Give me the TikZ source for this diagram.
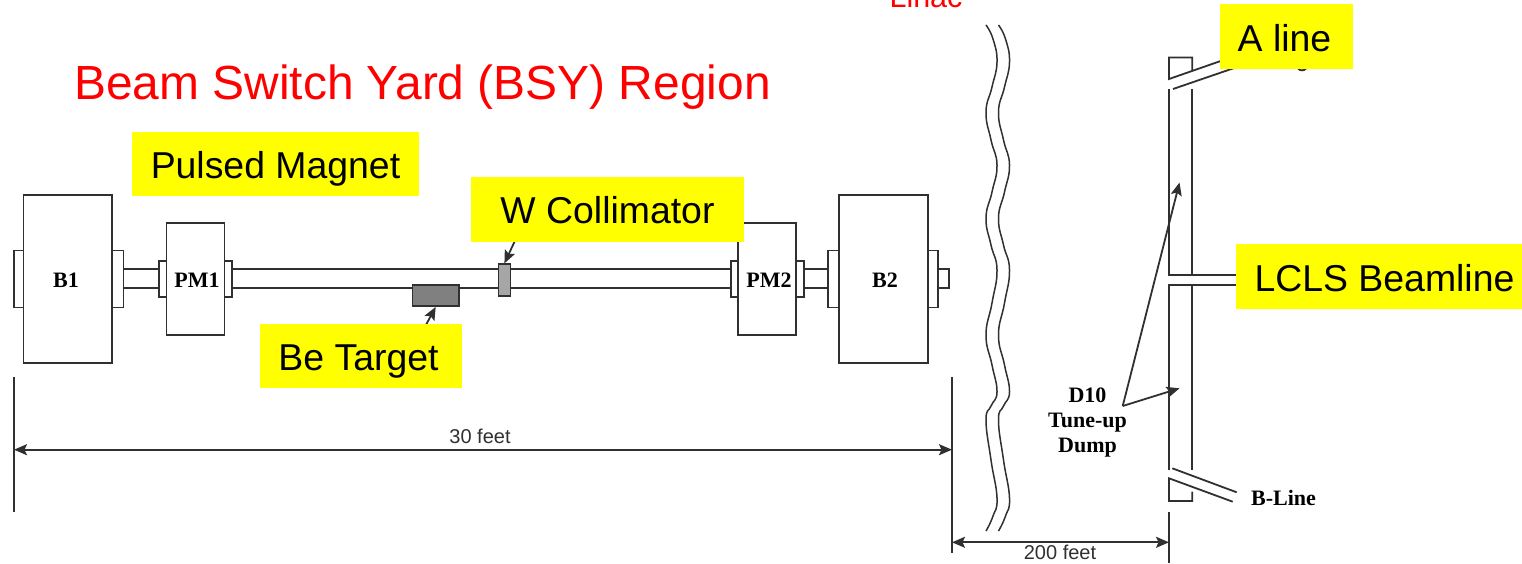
\documentclass[tikz,border=0pt]{standalone}
\usepackage{fontspec}
\usetikzlibrary{arrows.meta}
\newfontfamily\arialf{Liberation Sans}
\newfontfamily\timesf{Liberation Serif}
\definecolor{ink}{HTML}{303030}
\definecolor{hiyellow}{HTML}{FFFF00}
\tikzset{
  ln/.style={draw=ink,line width=1.8pt},
  part/.style={ln,fill=white,rectangle,inner sep=0pt},
  tag/.style={fill=hiyellow,rectangle,inner sep=0pt,text height=32pt,text depth=3pt,
    font=\arialf\fontsize{37.4}{37.4}\selectfont,text=black},
  redtxt/.style={inner sep=0pt,anchor=base,text=red,font=\arialf},
  boldl/.style={inner sep=0pt,anchor=base,text=black,align=center,font=\timesf\bfseries\fontsize{22}{25}\selectfont},
  thin label/.style={inner sep=0pt,anchor=base,text=ink,font=\arialf\fontsize{20}{20}\selectfont},
  arr/.style={ln,-{Stealth[length=13pt,width=11pt,inset=2.5pt]}},
  dim/.style={ln,{Stealth[length=13pt,width=11pt,inset=2.5pt]}-{Stealth[length=13pt,width=11pt,inset=2.5pt]}},
  wave/.style={draw=ink,line width=1.5pt}
}
\begin{document}
\begin{tikzpicture}[x=1pt,y=-1pt]
\useasboundingbox (0,0) rectangle (1522,563);
\clip (0,0) rectangle (1522,563);
% pipes
\draw[ln] (123,269.3) -- (949,269.3) -- (949,288.3) -- (123,288.3);
% flanges
\node[part,minimum width=9.5pt,minimum height=57pt] (B1L) at (18.7,279) {};
\node[part,minimum width=11.5pt,minimum height=57pt] (B1R) at (117.7,279) {};
\node[part,minimum width=7.5pt,minimum height=36.5pt] (P1L) at (162.7,279) {};
\node[part,minimum width=7.5pt,minimum height=36.5pt] (P1R) at (228.2,279) {};
\node[part,minimum width=7.6pt,minimum height=36.5pt] (P2L) at (734.5,279) {};
\node[part,minimum width=7.6pt,minimum height=36.5pt] (P2R) at (799.8,279) {};
\node[part,minimum width=11.6pt,minimum height=57pt] (B2L) at (833.5,279) {};
\node[part,minimum width=10pt,minimum height=57pt] (B2R) at (932.7,279) {};
% main boxes
\node[part,minimum width=88.5pt,minimum height=168pt] (B1) at (67.8,279) {};
\node[part,minimum width=58pt,minimum height=112.3pt] (PM1) at (195.5,279.2) {};
\node[part,minimum width=57.7pt,minimum height=112.3pt] (PM2) at (767.2,279.2) {};
\node[part,minimum width=88.4pt,minimum height=168pt] (B2) at (883.5,279) {};
\node[boldl] (B1t) at (66,287) {B1};
\node[boldl] (PM1t) at (197,287) {PM1};
\node[boldl] (PM2t) at (769,287) {PM2};
\node[boldl] (B2t) at (885,287) {B2};
% targets
\node[part,fill=black!50,minimum width=46.5pt,minimum height=21pt] (target) at (435.7,295.5) {};
\node[part,fill=black!35,minimum width=12pt,minimum height=31.4pt] (coll) at (504.4,280) {};
\coordinate (targetfrom) at (420,336);
\coordinate (collfrom) at (520,230);
\draw[arr] (targetfrom) -- (target.south);
\draw[arr] (collfrom) -- (coll.north);
% dimension lines
\coordinate (a1) at (14,377); \coordinate (a2) at (14,512);
\coordinate (b1) at (952,377); \coordinate (b2) at (952,552.5);
\coordinate (c1) at (1169,511.7); \coordinate (c2) at (1169,563);
\draw[ln] (a1) -- (a2);
\draw[ln] (b1) -- (b2);
\draw[ln] (c1) -- (c2);
\coordinate (d1) at (14,449.7); \coordinate (d2) at (952,449.7);
\coordinate (e1) at (952,542.3); \coordinate (e2) at (1169,542.3);
\draw[dim] (d1) -- (d2);
\draw[dim] (e1) -- (e2);
\node[thin label] (t30) at (480,443) {30 feet};
\node[thin label] (t200) at (1060,559) {200 feet};
% break marks
\draw[wave] plot[smooth,tension=0.8] coordinates {(986,25) (993,39) (997,62) (992,87) (986,112) (991,140) (997,165) (992,192) (986,218) (991,245) (997,270) (992,303) (986,335) (992,365) (997,392) (991,406) (986,420) (991,460) (997,498) (993,516) (986,531)};
\draw[wave] plot[smooth,tension=0.8] coordinates {(998.5,25) (1005.5,39) (1009.5,62) (1004.5,87) (998.5,112) (1003.5,140) (1009.5,165) (1004.5,192) (998.5,218) (1003.5,245) (1009.5,270) (1004.5,303) (998.5,335) (1004.5,365) (1009.5,392) (1003.5,406) (998.5,420) (1003.5,460) (1009.5,498) (1005.5,516) (998.5,531)};
% beam line column
\draw[ln] (1192.3,71) -- (1192.3,57.5) -- (1169,57.5) -- (1169,79) -- (1235,56);
\draw[ln] (1173,89) -- (1240,66);
\draw[ln] (1169,89) -- (1169,275) -- (1240,275);
\draw[ln] (1192.3,89) -- (1192.3,275);
\draw[ln] (1240,285.3) -- (1169,285.3) -- (1169,470);
\draw[ln] (1192.3,285.3) -- (1192.3,470);
\draw[ln] (1172.3,468.3) -- (1236.7,492.3);
\draw[ln] (1232.7,501.7) -- (1169,478.3) -- (1169,501) -- (1192.3,501) -- (1192.3,491.5);
\draw[ln] (1298,68.5) .. controls (1300,71) and (1304,71) .. (1306,68.5);
% dump leaders
\coordinate (apex) at (1122.7,406);
\coordinate (upper) at (1179.5,182.5);
\coordinate (lower) at (1179.5,388.3);
\draw[arr] (apex) -- (upper);
\draw[arr] (apex) -- (lower);
\node[boldl,anchor=center] (dump) at (1087.5,423) {D10\\Tune-up\\Dump};
\node[boldl] (bline) at (1283.5,505) {B-Line};
% title
\node[redtxt,font=\arialf\fontsize{47.9}{48}\selectfont] (title) at (422.5,99) {Beam Switch Yard (BSY) Region};
\node[redtxt,font=\arialf\fontsize{30.5}{30.5}\selectfont] (linac) at (926,7) {Linac};
% yellow labels
\node[tag,minimum width=287pt,minimum height=63.7pt] (lpm) at (275.5,163.9) {Pulsed Magnet};
\node[tag,minimum width=273pt,minimum height=64.7pt] (lw) at (607.5,209.3) {W Collimator};
\node[tag,minimum width=202pt,minimum height=64pt] (lbe) at (361,356) {\hspace*{-5pt}Be Target};
\node[tag,minimum width=133pt,minimum height=65pt] (la) at (1286.5,36.5) {\hspace*{-4pt}A line};
\node[tag,minimum width=286pt,minimum height=65pt] (ll) at (1379,276.5) {\hspace*{11pt}LCLS Beamline};
\end{tikzpicture}
\end{document}
